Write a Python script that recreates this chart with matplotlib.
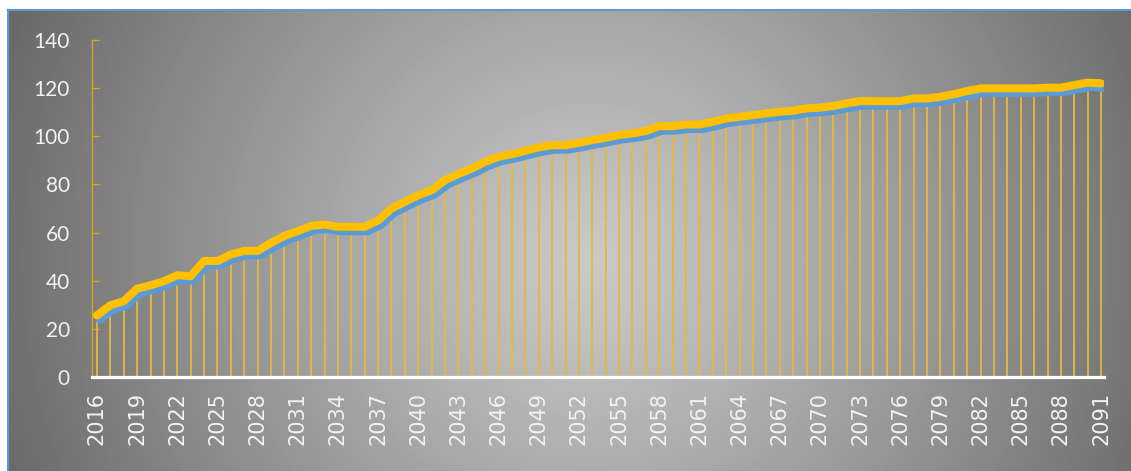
import numpy as np
import matplotlib.pyplot as plt
from matplotlib import patheffects

years = list(range(2016, 2092))
values = [25.6, 29.8, 31.5, 36.7, 38.1, 39.8, 42.3, 41.9, 48.2, 48.2,
          50.9, 52.4, 52.4, 55.7, 58.6, 60.6, 62.8, 63.3, 62.4, 62.4,
          62.4, 65.0, 70.0, 72.8, 75.5, 77.6, 81.8, 84.3, 86.6, 89.4,
          91.5, 92.6, 94.0, 95.4, 96.3, 96.3, 97.3, 98.4, 99.4, 100.5,
          101.2, 102.2, 104.2, 104.2, 104.9, 104.9, 106.0, 107.4, 108.1, 108.8,
          109.5, 110.2, 110.6, 111.6, 111.9, 112.6, 113.7, 114.6, 114.6, 114.6,
          114.6, 115.7, 115.7, 116.4, 117.5, 118.8, 119.9, 119.9, 119.9, 119.9,
          119.9, 120.2, 120.2, 121.3, 122.3, 122.0]
tick_years = list(range(2016, 2092, 3))

W, H = 1131, 471
fig = plt.figure(figsize=(W / 100, H / 100), dpi=100)
fig.patch.set_facecolor('white')

# radial grey background of the chart area
bg = fig.add_axes([8 / W, 0, 1 - 8 / W, 1 - 10 / H])
yy, xx = np.mgrid[0:461, 0:1123]
r = np.hypot(xx - 580, yy - 250) / 640
r = np.clip(r, 0, 1)
light, dark = 0.79, 0.40
img = light + (dark - light) * r ** 1.1
bg.imshow(img, cmap='gray', vmin=0, vmax=1, aspect='auto', interpolation='bilinear')
bg.set_xticks([])
bg.set_yticks([])
for side in ['right', 'bottom']:
    bg.spines[side].set_visible(False)
for side in ['left', 'top']:
    bg.spines[side].set_color('#5b9bd5')
    bg.spines[side].set_linewidth(1.5)

ax = fig.add_axes([92 / W, 94 / H, (1104 - 92) / W, (431 - 94) / H])
ax.patch.set_alpha(0)

ax.vlines(years, 0, values, color='#e6b93a', linewidth=1.3, zorder=2)
ax.plot(years, values, color='#ffc000', linewidth=5.8, solid_capstyle='round',
        solid_joinstyle='round', zorder=3,
        path_effects=[patheffects.SimpleLineShadow(offset=(2.0, -3.2), shadow_color='#5b9bd5',
                                                   alpha=1, rho=1),
                      patheffects.Normal()])

ax.set_xlim(2015.63, 2091.22)
ax.set_ylim(0, 140)
ax.set_yticks(range(0, 141, 20))
ax.set_xticks(tick_years)
ax.set_xticklabels([str(y) for y in tick_years], rotation=90)

for side in ['top', 'right']:
    ax.spines[side].set_visible(False)
ax.spines['left'].set_color('#d9a520')
ax.spines['left'].set_linewidth(1.0)
ax.spines['bottom'].set_color('white')
ax.spines['bottom'].set_linewidth(2.3)
ax.spines['bottom'].set_zorder(4)

ax.tick_params(axis='y', direction='in', length=5, width=1, color='#d9a520',
               pad=16, labelcolor='#f2f2f2', labelsize=15)
ax.tick_params(axis='x', length=0, pad=11, labelcolor='#f2f2f2', labelsize=15)
for lab in ax.get_yticklabels():
    lab.set_family('Lato')
for lab in ax.get_xticklabels():
    lab.set_family('DejaVu Sans')

fig.savefig('out.png', dpi=100)
